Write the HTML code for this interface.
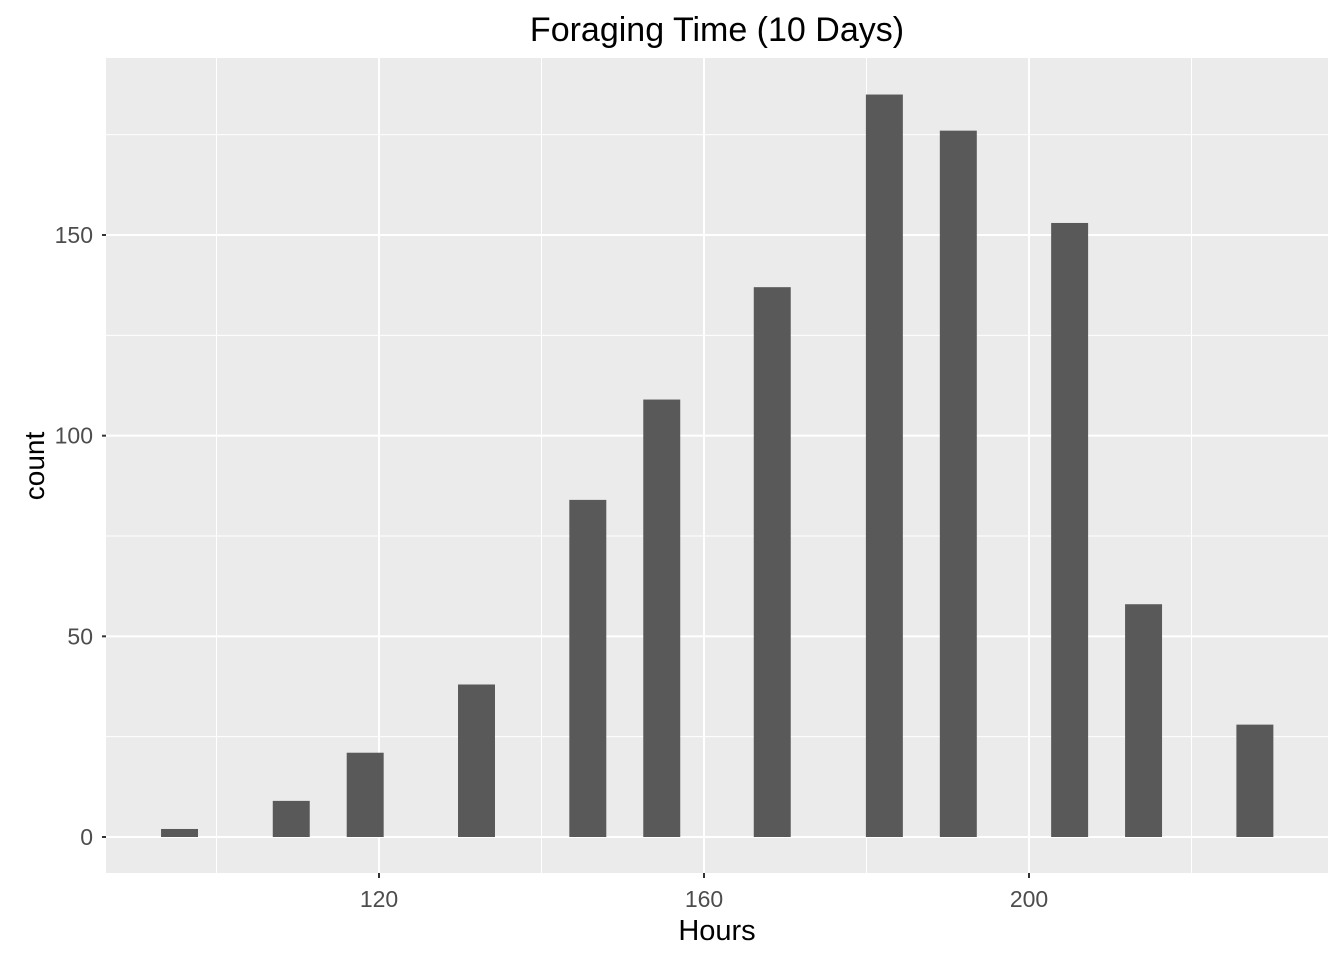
<!DOCTYPE html>
<html><head><meta charset="utf-8">
<style>
html,body{margin:0;padding:0;background:#fff;}
svg{display:block;font-family:"Liberation Sans",Arial,sans-serif;}
</style></head>
<body>
<svg id="chart" width="1344" height="960" xmlns="http://www.w3.org/2000/svg">
<text x="717" y="41" font-size="34" text-anchor="middle" fill="#000">Foraging Time (10 Days)</text>
<rect x="106" y="58" width="1222" height="815" fill="#ebebeb"/>
<g id="grid"></g>
<g id="bars"></g>
<g id="axes"></g>
<text x="717" y="940" font-size="29" text-anchor="middle" fill="#000">Hours</text>
<text transform="translate(44,466) rotate(-90)" font-size="28" text-anchor="middle" fill="#000">count</text>
</svg>
<script>
const binCenters = [95.45, 109.2, 118.3, 132, 145.7, 154.8, 168.4, 182.2, 191.3, 205, 214.1, 227.8];
const counts = [2, 9, 21, 38, 84, 109, 137, 185, 176, 153, 58, 28];
const binWidth = 4.55;
const xTicks = [120, 160, 200];
const xMinor = [100, 140, 180, 220];
const yTicks = [0, 50, 100, 150];
const yMinor = [25, 75, 125, 175];

const NS = "http://www.w3.org/2000/svg";
const PL = 106, PR = 1328, PT = 58, PB = 873;
function xs(v){ return 379 + (v - 120) * 8.125; }
function ys(v){ return 837 - v * (602/150); }
function mk(tag, attrs, parent){
  const e = document.createElementNS(NS, tag);
  for (const k in attrs) e.setAttribute(k, attrs[k]);
  parent.appendChild(e); return e;
}
const grid = document.getElementById('grid');
const bars = document.getElementById('bars');
const axes = document.getElementById('axes');

yMinor.forEach(v=>{
  const l = mk('line',{x1:PL,x2:PR,y1:ys(v),y2:ys(v),stroke:'#fff','stroke-width':1},grid);
  
  
});
xMinor.forEach(v=>{
  const l = mk('line',{x1:xs(v),x2:xs(v),y1:PT,y2:PB,stroke:'#fff','stroke-width':1},grid);
  
  
});
yTicks.forEach(v=>{
  const l = mk('line',{x1:PL,x2:PR,y1:ys(v),y2:ys(v),stroke:'#fff','stroke-width':2},grid);
  
  
  const t = mk('line',{x1:PL-4,x2:PL,y1:ys(v),y2:ys(v),stroke:'#333','stroke-width':2},axes);
  
  
  const tx = mk('text',{x:PL-13,y:ys(v)+8,'font-size':23,'text-anchor':'end',fill:'#4d4d4d'},axes);
  tx.textContent = v;
  
  
});
xTicks.forEach(v=>{
  const l = mk('line',{x1:xs(v),x2:xs(v),y1:PT,y2:PB,stroke:'#fff','stroke-width':2},grid);
  
  
  const t = mk('line',{x1:xs(v),x2:xs(v),y1:PB,y2:PB+5,stroke:'#333','stroke-width':2},axes);
  
  
  const tx = mk('text',{x:xs(v),y:PB+34,'font-size':23,'text-anchor':'middle',fill:'#4d4d4d'},axes);
  tx.textContent = v;
  
  
});
binCenters.forEach((c,i)=>{
  const x0 = xs(c - binWidth/2), x1 = xs(c + binWidth/2);
  const r = mk('rect',{x:x0,y:ys(counts[i]),width:x1-x0,height:ys(0)-ys(counts[i]),fill:'#595959'},bars);
  
  
});
</script>
</body></html>
